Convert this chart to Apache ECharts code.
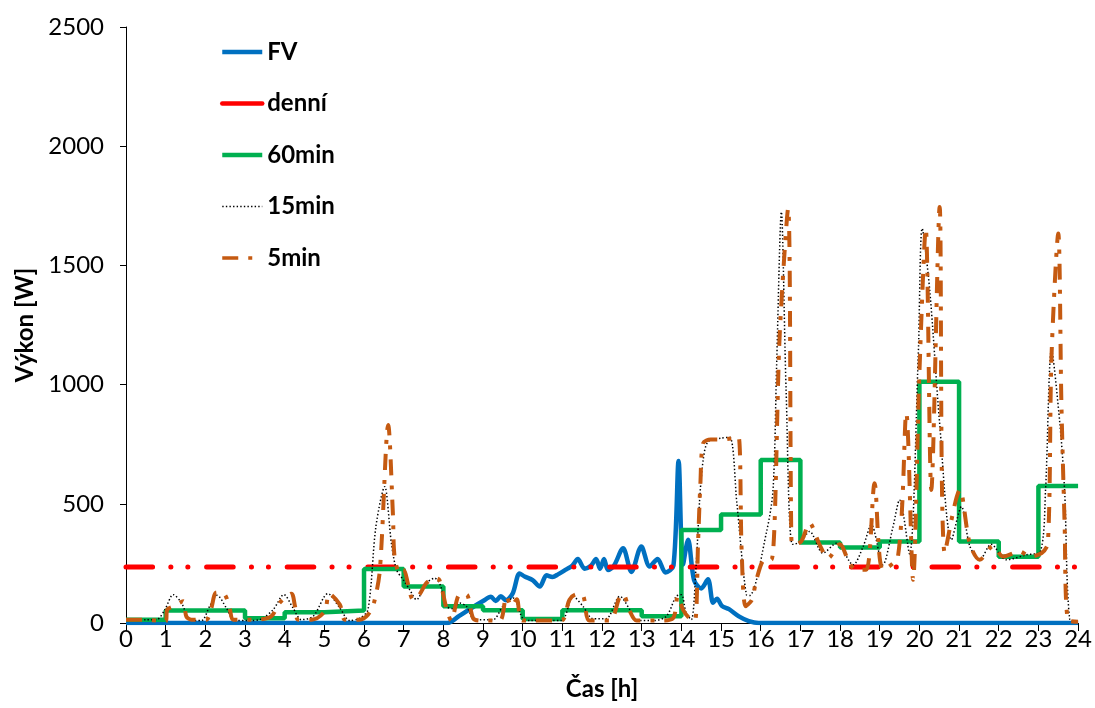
<!DOCTYPE html>
<html>
<head>
<meta charset="utf-8">
<script src="https://cdn.jsdelivr.net/npm/echarts@6/dist/echarts.min.js"></script>
<style>
  html, body { margin: 0; padding: 0; background: #fff; }
  #chart { width: 1095px; height: 708px; }
</style>
</head>
<body>
<div id="chart"></div>
<script>
// FV výroba [h, W]
const fvHours = [0, 8.1, 8.4, 8.7, 9.0, 9.2, 9.32, 9.45, 9.58, 9.75, 9.92, 10.05, 10.25, 10.43, 10.6, 10.75, 10.9, 11.1, 11.25, 11.39, 11.56, 11.72, 11.85, 11.95, 12.05, 12.15, 12.3, 12.53, 12.74, 12.99, 13.2, 13.4, 13.6, 13.8, 13.93, 14.04, 14.17, 14.32, 14.5, 14.67, 14.8, 14.9, 15.02, 15.2, 15.45, 15.7, 15.95, 24]
const fvWatts = [0, 0, 30, 62, 92, 110, 92, 112, 95, 125, 208, 195, 180, 153, 200, 193, 205, 225, 240, 268, 228, 240, 268, 228, 268, 222, 240, 314, 214, 321, 237, 268, 212, 240, 680, 245, 349, 180, 145, 183, 85, 102, 72, 58, 28, 8, 0, 0]

// denní průměr
const dayHours = [0, 24]
const dayWatts = [235, 235]

// 60min průměry (hodnota platí od dané hodiny)
const h60Hours = [0, 1, 2, 3, 4, 5, 6, 7, 8, 9, 10, 11, 12, 13, 14, 15, 16, 17, 18, 19, 20, 21, 22, 23, 24]
const h60Watts = [14, 52, 52, 20, 45, 52, 227, 153, 70, 53, 17, 53, 53, 28, 390, 455, 684, 338, 317, 342, 1012, 342, 278, 575, 575]

// 15min průměry
const m15Hours = [0, 0.5, 0.77, 0.98, 1.19, 1.4, 1.61, 1.9, 2.11, 2.3, 2.53, 2.74, 3.05, 3.37, 3.71, 3.98, 4.21, 4.42, 4.72, 5.09, 5.39, 5.64, 5.89, 6.1, 6.3, 6.52, 6.69, 6.82, 6.99, 7.15, 7.32, 7.57, 7.78, 7.92, 8.08, 8.24, 8.41, 8.58, 8.79, 9.25, 9.5, 9.76, 10.0, 10.2, 10.97, 11.27, 11.52, 11.77, 12.1, 12.45, 12.7, 12.87, 13.29, 13.62, 13.87, 14.0, 14.12, 14.25, 14.37, 14.46, 14.55, 14.67, 15.0, 15.22, 15.4, 15.64, 15.72, 16.14, 16.31, 16.4, 16.52, 16.64, 16.8, 17.0, 17.23, 17.57, 17.91, 18.33, 18.58, 18.79, 19.08, 19.33, 19.5, 19.75, 19.97, 20.07, 20.26, 20.51, 20.81, 21.06, 21.27, 21.52, 21.81, 22.19, 22.7, 23.05, 23.18, 23.33, 23.54, 23.66, 23.79, 24]
const m15Watts = [14, 14, 14, 56, 119, 84, 14, 10, 70, 116, 63, 10, 10, 14, 56, 119, 63, 14, 28, 123, 63, 10, 20, 56, 405, 572, 335, 223, 181, 140, 98, 167, 188, 160, 70, 60, 84, 70, 14, 14, 70, 105, 20, 10, 10, 112, 70, 18, 18, 112, 56, 10, 10, 28, 112, 119, 42, 14, 237, 516, 684, 760, 775, 779, 500, 118, 115, 377, 558, 1075, 1724, 977, 330, 340, 384, 293, 335, 244, 320, 412, 244, 400, 516, 290, 1117, 1655, 1396, 838, 349, 488, 323, 265, 330, 265, 286, 300, 558, 1145, 838, 558, 14, 5]

// 5min průměry
const m5Hours = [0, 0.42, 1.0, 1.04, 1.2, 1.44, 1.52, 1.65, 2.02, 2.14, 2.28, 2.49, 2.62, 2.7, 3.07, 3.28, 3.66, 3.87, 4.17, 4.26, 4.34, 4.68, 5.01, 5.12, 5.39, 5.52, 5.89, 6.1, 6.25, 6.4, 6.61, 6.73, 6.77, 6.9, 6.99, 7.24, 7.4, 7.57, 7.78, 7.9, 8.08, 8.2, 8.41, 8.58, 8.75, 8.92, 9.42, 9.59, 9.72, 9.85, 10.0, 10.97, 11.18, 11.35, 11.52, 11.68, 12.19, 12.45, 12.53, 12.7, 12.87, 13.45, 13.79, 13.91, 14.04, 14.2, 14.34, 14.42, 14.48, 14.55, 14.74, 15.0, 15.3, 15.44, 15.52, 15.62, 15.78, 15.89, 16.1, 16.27, 16.48, 16.69, 16.77, 16.81, 17.02, 17.23, 17.48, 17.7, 17.99, 18.24, 18.41, 18.66, 18.87, 19.08, 19.46, 19.67, 19.84, 20.0, 20.16, 20.3, 20.51, 20.64, 21.02, 21.27, 21.52, 21.86, 22.11, 22.53, 22.78, 23.08, 23.24, 23.33, 23.5, 23.58, 23.66, 23.74, 24]
const m5Watts = [14, 14, 7, 56, 70, 91, 28, 14, 14, 56, 128, 119, 56, 14, 14, 14, 28, 84, 123, 70, 14, 14, 49, 123, 77, 14, 14, 35, 84, 223, 831, 450, 279, 209, 223, 98, 120, 167, 188, 180, 60, 10, 119, 119, 20, 10, 10, 112, 70, 100, 10, 10, 98, 120, 115, 10, 10, 112, 120, 50, 10, 10, 20, 112, 56, 20, 10, 335, 587, 754, 770, 770, 775, 780, 300, 70, 98, 181, 265, 265, 1215, 1738, 377, 328, 342, 419, 330, 272, 330, 250, 223, 223, 586, 223, 279, 880, 181, 1048, 1655, 558, 1745, 294, 558, 333, 265, 323, 279, 300, 279, 293, 335, 1117, 1634, 917, 419, 14, 5]

const zip = (xs, ys) => xs.map((x, i) => [x, ys[i]])

const chart = echarts.init(document.getElementById('chart'))
const FONT = 'Lato, "Open Sans", sans-serif'

chart.setOption({
  animation: false,
  backgroundColor: '#fff',
  textStyle: { fontFamily: FONT },
  grid: { left: 126, right: 16, top: 27, bottom: 85 },
  legend: {
    orient: 'vertical', left: 220, top: 40, padding: 0,
    itemWidth: 40, itemHeight: 14, itemGap: 27.5,
    itemStyle: { opacity: 0 },
    textStyle: { fontFamily: FONT, fontSize: 24, fontWeight: 'bold', color: '#000', lineHeight: 24 },
    data: [
      { name: 'FV', lineStyle: { width: 4.5 } },
      { name: 'denní', lineStyle: { width: 4.5, type: 'solid' } },
      { name: '60min', lineStyle: { width: 4.5 } },
      { name: '15min', lineStyle: { width: 1.5 } },
      { name: '5min', lineStyle: { width: 3.5 } },
    ],
  },
  xAxis: {
    type: 'value', min: 0, max: 24, interval: 1,
    name: 'Čas [h]', nameLocation: 'middle', nameGap: 54,
    nameTextStyle: { fontFamily: FONT, fontSize: 24, fontWeight: 'bold', color: '#000' },
    axisLine: { lineStyle: { color: '#000', width: 1 } },
    axisTick: { inside: false, length: 8, lineStyle: { color: '#000' } },
    axisLabel: { fontFamily: FONT, fontSize: 24, color: '#000', margin: 4 },
    splitLine: { show: false },
  },
  yAxis: {
    type: 'value', min: 0, max: 2500, interval: 500,
    name: 'Výkon [W]', nameLocation: 'middle', nameGap: 78, nameRotate: 90,
    nameTextStyle: { fontFamily: FONT, fontSize: 24, fontWeight: 'bold', color: '#000' },
    axisLine: { show: true, lineStyle: { color: '#000', width: 1 } },
    axisTick: { show: true, length: 6, lineStyle: { color: '#000' } },
    axisLabel: { fontFamily: FONT, fontSize: 24, color: '#000', margin: 22, formatter: v => String(v) },
    splitLine: { show: false },
  },
  series: [
    { name: 'FV', type: 'line', data: zip(fvHours, fvWatts), smooth: 0.3, symbol: 'none',
      lineStyle: { color: '#0070C0', width: 4.5 }, itemStyle: { color: '#0070C0' } },
    { name: 'denní', type: 'line', data: zip(dayHours, dayWatts), symbol: 'none',
      lineStyle: { color: '#FF0000', width: 5, cap: 'round', type: [26.6, 18.2, 0.1, 16.9, 0.1, 18.7] },
      itemStyle: { color: '#FF0000' } },
    { name: '60min', type: 'line', data: zip(h60Hours, h60Watts), step: 'end', symbol: 'none',
      lineStyle: { color: '#00B050', width: 4.5 }, itemStyle: { color: '#00B050' } },
    { name: '15min', type: 'line', data: zip(m15Hours, m15Watts), smooth: 0.3, symbol: 'none',
      lineStyle: { color: '#000000', width: 1.5, type: [1.4, 2.2] }, itemStyle: { color: '#000' } },
    { name: '5min', type: 'line', data: zip(m5Hours, m5Watts), smooth: 0.3, symbol: 'none',
      lineStyle: { color: '#C55A11', width: 4, type: [16, 10, 4, 10] }, itemStyle: { color: '#C55A11' } },
  ],
})
</script>
</body>
</html>
